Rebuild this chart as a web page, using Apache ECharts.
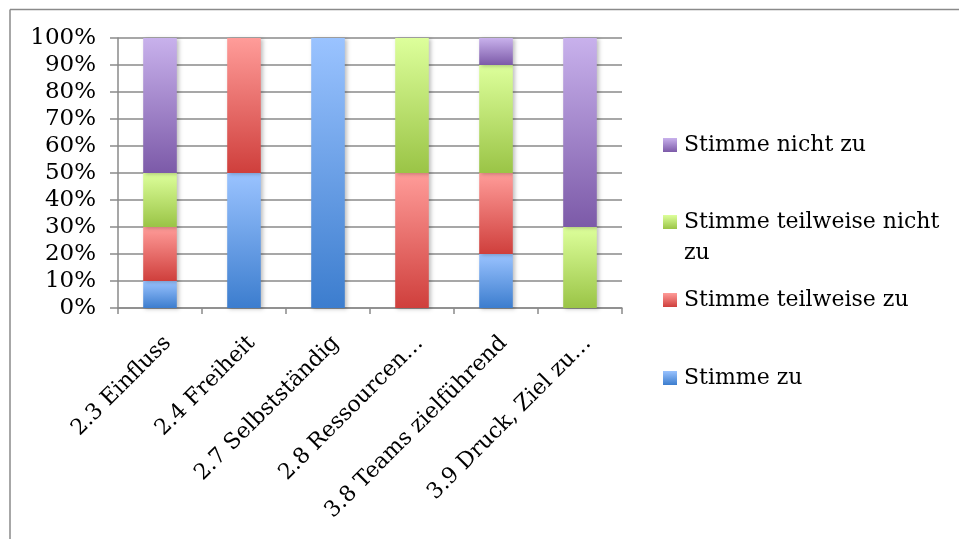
<!DOCTYPE html>
<html>
<head>
<meta charset="utf-8">
<script src="https://cdn.jsdelivr.net/npm/echarts@6/dist/echarts.min.js"></script>
<style>html,body{margin:0;padding:0;background:#fff;}#c{width:959px;height:539px;}</style>
</head>
<body>
<div id="c"></div>
<script>
const categories = ['2.3 Einfluss', '2.4 Freiheit', '2.7 Selbstständig', '2.8 Ressourcen…', '3.8 Teams zielführend', '3.9 Druck, Ziel zu…'];
const seriesNames = ['Stimme zu', 'Stimme teilweise zu', 'Stimme teilweise nicht zu', 'Stimme nicht zu'];
const stimmeZu = [10, 50, 100, 0, 20, 0];
const teilweiseZu = [20, 50, 0, 50, 30, 0];
const teilweiseNichtZu = [20, 0, 0, 50, 40, 30];
const nichtZu = [50, 0, 0, 0, 10, 70];
const yTicks = [0, 10, 20, 30, 40, 50, 60, 70, 80, 90, 100];

const FONT = 'DejaVu Serif';
const gradients = [
  ['#9AC3FF', '#3C7DCE'],
  ['#FF9C99', '#CF3F3C'],
  ['#DDFF9B', '#9AC446'],
  ['#C8B1EC', '#7C5AA8']
];
const values = [stimmeZu, teilweiseZu, teilweiseNichtZu, nichtZu];

function grad(c) {
  return new echarts.graphic.LinearGradient(0, 0, 0, 1, [
    { offset: 0, color: c[0] }, { offset: 1, color: c[1] }
  ]);
}

const series = seriesNames.map((name, i) => ({
  name: name,
  type: 'bar',
  stack: 'total',
  barWidth: '40%',
  data: values[i],
  itemStyle: {
    color: grad(gradients[i]),
    shadowColor: 'rgba(0,0,0,0.25)',
    shadowBlur: 4,
    shadowOffsetX: 2,
    shadowOffsetY: 1
  }
}));

const legendTops = { 'Stimme nicht zu': 134, 'Stimme teilweise nicht zu': 211, 'Stimme teilweise zu': 289, 'Stimme zu': 367 };
const legends = Object.keys(legendTops).map(n => ({
  data: [n],
  left: 663,
  top: legendTops[n],
  padding: 0,
  orient: 'vertical',
  icon: 'rect',
  itemWidth: 14,
  itemHeight: 14,
  itemGap: 0,
  selectedMode: false,
  formatter: name => name === 'Stimme teilweise nicht zu' ? 'Stimme teilweise nicht' : name,
  textStyle: { fontFamily: FONT, fontSize: 22, color: '#000', padding: [0, 0, 0, 2] }
}));

const chart = echarts.init(document.getElementById('c'), null, { renderer: 'canvas' });
chart.setOption({
  animation: false,
  backgroundColor: '#fff',
  grid: { left: 118, top: 38, width: 504, height: 270, containLabel: false },
  legend: legends,
  xAxis: {
    type: 'category',
    data: categories,
    axisLine: { lineStyle: { color: '#8a8a8a', width: 1.5 } },
    axisTick: { show: true, length: 6, lineStyle: { color: '#8a8a8a', width: 1.5 } },
    axisLabel: { interval: 0, rotate: 45, margin: 24, align: 'right', verticalAlign: 'top', fontFamily: FONT, fontSize: 22, color: '#000' }
  },
  yAxis: {
    type: 'value',
    min: yTicks[0],
    max: yTicks[yTicks.length - 1],
    interval: 10,
    axisLine: { show: true, lineStyle: { color: '#8a8a8a', width: 1.5 } },
    axisTick: { show: true, length: 8, lineStyle: { color: '#8a8a8a', width: 1.5 } },
    splitLine: { lineStyle: { color: '#8a8a8a', width: 1.5 } },
    axisLabel: { margin: 22, fontFamily: FONT, fontSize: 23, color: '#000', formatter: '{value}%' }
  },
  series: series,
  graphic: [
    { type: 'line', shape: { x1: 10, y1: 9.5, x2: 959, y2: 9.5 }, style: { stroke: '#8a8a8a', lineWidth: 1.5 } },
    { type: 'line', shape: { x1: 10, y1: 9.5, x2: 10, y2: 539 }, style: { stroke: '#8a8a8a', lineWidth: 1.5 } },
    { type: 'text', left: 684, top: 242, style: { text: 'zu', font: '22px "DejaVu Serif"', fill: '#000' } }
  ]
});
</script>
</body>
</html>
